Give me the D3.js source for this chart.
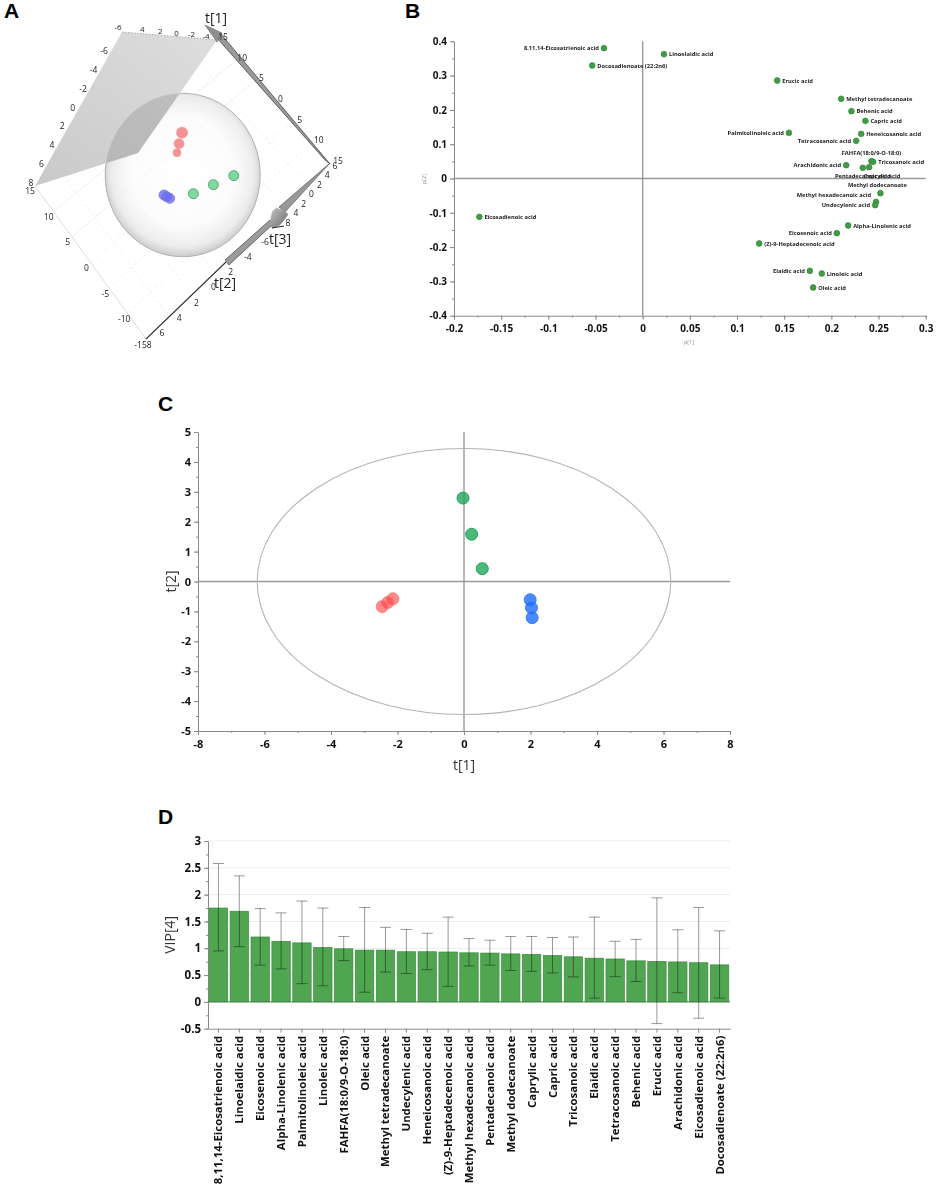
<!DOCTYPE html>
<html>
<head>
<meta charset="utf-8">
<script src="https://cdn.jsdelivr.net/npm/d3@7"></script>
<style>
  html, body { margin: 0; padding: 0; background: #fff; }
  svg { display: block; }
  text { font-family: "Open Sans", "Noto Sans", sans-serif; }
  .panel-letter { font-family: "Liberation Sans", Arial, sans-serif; font-weight: bold; font-size: 21px; fill: #000; }
</style>
</head>
<body>
<div id="chart"></div>
<script>
// panel A - score plot 3D, t[1] / t[2] floor coordinates
const aGroups = ["red", "red", "red", "green", "green", "green", "blue", "blue", "blue"];
const aT1 = [5.78, 4.66, 3.68, -6.18, -4.97, -3.79, -0.47, -1.01, -1.59];
const aT2 = [-2.46, -1.62, -0.95, -3.25, -1.4, 0.42, 2.39, 2.31, 2.22];
const aRadius = [5.5, 5, 4, 5, 5, 5, 5, 5, 5];
const aEdgeTicks = [15, 10, 5, 0, -5, -10, -15];
const aEdgeTickLabels = ["15", "10", "5", "0", "5", "10", "15"];
const aLowerTickLabels = ["15", "10", "5", "0", "-5", "-10", "-158"];
const aT2Ticks = [6, 4, 2, 0, -2, -4, -6];
const aT2Labels = ["6", "4", "2", "0", "2", "-4", "-6"];
const aT3Labels = ["6", "4", "2", "0", "2", "4", "8"];
const aWallLabels = ["8", "6", "4", "2", "0", "-2", "-4", "-6"];
const aTopLabels = ["-6", "4", "2", "0", "-2", "-4"];

// panel B - loadings
const loadNames = ["8,11,14-Eicosatrienoic acid", "Docosadienoate (22:2n6)", "Linoelaidic acid", "Erucic acid",
  "Methyl tetradecanoate", "Behenic acid", "Capric acid", "Palmitolinoleic acid", "Heneicosanoic acid",
  "Tetracosanoic acid", "FAHFA(18:0/9-O-18:0)", "Tricosanoic acid", "Arachidonic acid", "Pentadecanoic acid",
  "Caprylic acid", "Methyl dodecanoate", "Methyl hexadecanoic acid", "Undecylenic acid", "Alpha-Linolenic acid",
  "Eicosenoic acid", "(Z)-9-Heptadecenoic acid", "Elaidic acid", "Linoleic acid", "Oleic acid", "Eicosadienoic acid"];
const loadP1 = [-0.0411, -0.0535, 0.0226, 0.1426, 0.2104, 0.2213, 0.2361, 0.155, 0.2316, 0.2263, 0.2425, 0.2443,
  0.2157, 0.2333, 0.24, 0.252, 0.2474, 0.2464, 0.2178, 0.2058, 0.1235, 0.1772, 0.1899, 0.1807, -0.1731];
const loadP2 = [0.38, 0.3294, 0.3625, 0.2857, 0.2323, 0.1963, 0.1681, 0.1331, 0.1302, 0.1098, 0.0505, 0.0486,
  0.0389, 0.0311, 0.033, -0.0428, -0.068, -0.0777, -0.137, -0.1594, -0.1895, -0.2692, -0.277, -0.3178, -0.1118];
const loadLeft = ["8,11,14-Eicosatrienoic acid", "Palmitolinoleic acid", "Tetracosanoic acid", "Arachidonic acid",
  "Methyl hexadecanoic acid", "Undecylenic acid", "Eicosenoic acid", "Elaidic acid"];
const loadAbove = ["FAHFA(18:0/9-O-18:0)", "Methyl dodecanoate"];
const loadBelow = ["Pentadecanoic acid", "Caprylic acid"];
const pXTicks = [-0.2, -0.15, -0.1, -0.05, 0, 0.05, 0.1, 0.15, 0.2, 0.25, 0.3];
const pYTicks = [0.4, 0.3, 0.2, 0.1, 0, -0.1, -0.2, -0.3, -0.4];

// panel C - score plot
const scoreGroups = ["green", "green", "green", "red", "red", "red", "blue", "blue", "blue"];
const scoreT1 = [-0.03, 0.23, 0.55, -2.14, -2.29, -2.46, 1.99, 2.03, 2.05];
const scoreT2 = [2.79, 1.58, 0.43, -0.58, -0.7, -0.84, -0.61, -0.88, -1.21];
const tXTicks = [-8, -6, -4, -2, 0, 2, 4, 6, 8];
const tYTicks = [5, 4, 3, 2, 1, 0, -1, -2, -3, -4, -5];
const ellipseT1 = 6.22;
const ellipseT2 = 4.45;

// panel D - VIP
const vipNames = ["8,11,14-Eicosatrienoic acid", "Linoelaidic acid", "Eicosenoic acid", "Alpha-Linolenic acid",
  "Palmitolinoleic acid", "Linoleic acid", "FAHFA(18:0/9-O-18:0)", "Oleic acid", "Methyl tetradecanoate",
  "Undecylenic acid", "Heneicosanoic acid", "(Z)-9-Heptadecenoic acid", "Methyl hexadecanoic acid",
  "Pentadecanoic acid", "Methyl dodecanoate", "Caprylic acid", "Capric acid", "Tricosanoic acid", "Elaidic acid",
  "Tetracosanoic acid", "Behenic acid", "Erucic acid", "Arachidonic acid", "Eicosadienoic acid",
  "Docosadienoate (22:2n6)"];
const vipValues = [1.75, 1.69, 1.21, 1.13, 1.1, 1.015, 0.99, 0.965, 0.965, 0.935, 0.935, 0.93, 0.915, 0.91, 0.895,
  0.885, 0.865, 0.84, 0.815, 0.8, 0.765, 0.755, 0.745, 0.73, 0.69];
const vipHigh = [2.58, 2.35, 1.74, 1.66, 1.88, 1.75, 1.22, 1.76, 1.39, 1.35, 1.28, 1.58, 1.18, 1.15, 1.22, 1.22,
  1.2, 1.21, 1.58, 1.13, 1.165, 1.94, 1.345, 1.76, 1.325];
const vipLow = [0.95, 1.03, 0.685, 0.615, 0.34, 0.3, 0.77, 0.18, 0.555, 0.53, 0.6, 0.29, 0.67, 0.685, 0.585, 0.57,
  0.54, 0.465, 0.07, 0.47, 0.38, -0.405, 0.17, -0.305, 0.07];
const vipTicks = [3, 2.5, 2, 1.5, 1, 0.5, 0, -0.5];

const axisGrey = "#8a8a8a";
const svg = d3.select("#chart").append("svg").attr("width", 941).attr("height", 1192);

[["A", 4, 18], ["B", 405, 18], ["C", 158, 411], ["D", 158, 824]].forEach(([t, x, y]) => {
  svg.append("text").attr("class", "panel-letter").attr("x", x).attr("y", y).text(t);
});

function styleAxis(g, size, weight) {
  g.selectAll(".domain").attr("stroke", axisGrey).attr("stroke-width", 1);
  g.selectAll(".tick line").attr("stroke", axisGrey);
  g.selectAll("text").attr("fill", "#111").style("font-size", size + "px").style("font-weight", weight)
    .style("font-family", '"Open Sans", sans-serif');
}

function xyAxes(g, x, y, xTicks, yTicks, xMinor, yMinor, size) {
  const h = y.range()[0], w = x.range()[1];
  const plain = d => String(d);
  const minorX = g.append("g").attr("transform", `translate(0,${h})`)
    .call(d3.axisBottom(x).tickValues(xMinor).tickSize(2).tickFormat(""));
  minorX.select(".domain").remove();
  minorX.selectAll("line").attr("stroke", axisGrey);
  const minorY = g.append("g").attr("transform", `translate(${x.range()[0]},0)`)
    .call(d3.axisLeft(y).tickValues(yMinor).tickSize(2).tickFormat(""));
  minorY.select(".domain").remove();
  minorY.selectAll("line").attr("stroke", axisGrey);
  g.append("g").attr("transform", `translate(0,${h})`)
    .call(d3.axisBottom(x).tickValues(xTicks).tickSize(4).tickSizeOuter(0).tickPadding(5).tickFormat(plain))
    .call(a => styleAxis(a, size, 700));
  g.append("g").attr("transform", `translate(${x.range()[0]},0)`)
    .call(d3.axisLeft(y).tickValues(yTicks).tickSize(4).tickSizeOuter(0).tickFormat(plain))
    .call(a => styleAxis(a, size, 700));
  // zero cross
  g.append("line").attr("x1", x.range()[0]).attr("x2", w).attr("y1", y(0)).attr("y2", y(0))
    .attr("stroke", "#999").attr("stroke-width", 1.4);
  g.append("line").attr("x1", x(0)).attr("x2", x(0)).attr("y1", h).attr("y2", y.range()[1])
    .attr("stroke", "#999").attr("stroke-width", 1.4);
}

// ---- panel A
function drawPanelA() {
  const g = svg.append("g").style("filter", "blur(0.35px)");
  const defs = svg.append("defs");
  const sphere = defs.append("radialGradient").attr("id", "sphere").attr("cx", "50%").attr("cy", "48%").attr("r", "51%");
  sphere.append("stop").attr("offset", "0%").attr("stop-color", "#fff").attr("stop-opacity", 0.5);
  sphere.append("stop").attr("offset", "65%").attr("stop-color", "#fafafa").attr("stop-opacity", 0.7);
  sphere.append("stop").attr("offset", "90%").attr("stop-color", "#e9e9e9").attr("stop-opacity", 0.85);
  sphere.append("stop").attr("offset", "100%").attr("stop-color", "#d0d0d0");
  const wall = defs.append("linearGradient").attr("id", "wall").attr("x1", "0%").attr("y1", "100%").attr("x2", "100%").attr("y2", "0%");
  wall.append("stop").attr("offset", "0%").attr("stop-color", "#c9c9c9");
  wall.append("stop").attr("offset", "100%").attr("stop-color", "#dedede");
  const head = defs.append("linearGradient").attr("id", "head").attr("x1", "0%").attr("y1", "0%").attr("x2", "100%").attr("y2", "100%");
  head.append("stop").attr("offset", "0%").attr("stop-color", "#c4c4c4");
  head.append("stop").attr("offset", "100%").attr("stop-color", "#6a6a6a");
  defs.append("clipPath").attr("id", "sphere-clip").append("ellipse")
    .attr("cx", 182.7).attr("cy", 175).attr("rx", 77.5).attr("ry", 81.7);

  // corners of the box as drawn
  const L = [35, 186], T = [217, 40], R = [330, 163], B = [146, 339], Back = [122, 32], Inner = [138, 153];
  const along = (p, q, dom) => {
    const sx = d3.scaleLinear().domain(dom).range([p[0], q[0]]);
    const sy = d3.scaleLinear().domain(dom).range([p[1], q[1]]);
    return v => [sx(v), sy(v)];
  };
  const line = (a, b) => g.append("line").attr("x1", a[0]).attr("y1", a[1]).attr("x2", b[0]).attr("y2", b[1]);

  // floor grid
  const t1Top = along(T, R, [15, -15]), t1Low = along(L, B, [15, -15]);
  aEdgeTicks.forEach(v => line(t1Top(v), t1Low(v)).attr("stroke", "#ececec").attr("stroke-width", 0.8)
    .attr("stroke-dasharray", v > 0 ? "none" : "3 3"));
  const t2Right = along(R, B, [-8, 8]), t2Left = along(T, L, [-8, 8]);
  aT2Ticks.forEach(v => line(t2Right(v), t2Left(v)).attr("stroke", "#ececec").attr("stroke-width", 0.8)
    .attr("stroke-dasharray", "3 3"));
  line(L, B).attr("stroke", "#ddd");

  // sphere, then wall over it
  g.append("ellipse").attr("cx", 182.7).attr("cy", 175).attr("rx", 77.5).attr("ry", 81.7)
    .attr("fill", "url(#sphere)").attr("stroke", "#b0b0b0").attr("stroke-width", 1);
  const wallPts = [Back, T, Inner, L];
  g.append("path").attr("d", d3.line()(wallPts)).attr("fill", "url(#wall)");
  g.append("path").attr("d", d3.line()(wallPts)).attr("fill", "#666").attr("fill-opacity", 0.22)
    .attr("clip-path", "url(#sphere-clip)");
  line(Back, T).attr("stroke", "#aaa").attr("stroke-dasharray", "1.5 1.5");

  // points
  const color = d3.scaleOrdinal().domain(["red", "green", "blue"]).range(["#f0787a", "#5fd08a", "#6a6af0"]);
  const stroke = d3.scaleOrdinal().domain(["red", "green", "blue"]).range(["#ee9a9a", "#3c9c60", "#7a7ae0"]);
  const px = d3.scaleLinear().domain([0, 1]).range([0, -3.76]), py = d3.scaleLinear().domain([0, 1]).range([0, -4.09]);
  const qx = d3.scaleLinear().domain([0, 1]).range([0, -8.56]), qy = d3.scaleLinear().domain([0, 1]).range([0, 7.58]);
  g.selectAll(".a-pt").data(aT1).join("circle").attr("class", "a-pt")
    .attr("cx", (d, i) => 182.7 + px(d) + qx(aT2[i]))
    .attr("cy", (d, i) => 175 + py(d) + qy(aT2[i]))
    .attr("r", (d, i) => aRadius[i])
    .attr("fill", (d, i) => color(aGroups[i])).attr("fill-opacity", 0.8)
    .attr("stroke", (d, i) => stroke(aGroups[i])).attr("stroke-width", 0.8);

  // axis arrows
  const poly = pts => g.append("path").attr("d", d3.line()(pts) + "Z");
  poly([[330, 164], [325, 160], [217, 38], [221, 34]]).attr("fill", "#9a9a9a").attr("stroke", "#333").attr("stroke-width", 0.7);
  poly([[205, 25], [222, 33], [217, 42]]).attr("fill", "#8f8f8f").attr("stroke", "#555").attr("stroke-width", 0.5);
  line([146, 339], [226, 262]).attr("stroke", "#333").attr("stroke-width", 1.1);
  poly([[225, 260], [270, 220], [273, 224], [229, 265]]).attr("fill", "#9b9b9b").attr("stroke", "#444").attr("stroke-width", 0.7);
  poly([[330, 163], [279, 207], [285, 212]]).attr("fill", "#999").attr("stroke", "#444").attr("stroke-width", 0.6);
  g.append("path")
    .attr("d", d3.line().curve(d3.curveCardinalClosed.tension(0.5))([[270, 223], [272, 212], [277, 208], [288, 214], [280, 225], [272, 228]]))
    .attr("fill", "url(#head)");
  line([272, 228], [284, 226]).attr("stroke", "#222").attr("stroke-width", 1);

  const label = (txt, p, size, anchor) => g.append("text").attr("x", p[0]).attr("y", p[1]).attr("text-anchor", anchor || "middle")
    .attr("dy", "0.35em").attr("fill", "#222").style("font-size", size + "px").text(txt);
  const onEdge = (labels, p, q) => labels.forEach((t, i) => {
    const s = along(p, q, [0, labels.length - 1]);
    label(t, s(i), 8.5);
  });
  onEdge(aEdgeTickLabels, [223, 37], [338, 161]);
  onEdge(aLowerTickLabels, [30, 191], [143, 345]);
  onEdge(aT2Labels, [162, 333], [265, 242]);
  onEdge(aT3Labels, [335, 166], [288, 223]);
  onEdge(aWallLabels, [31, 183], [104, 51]);
  // the back edge runs away from the viewer, so its ticks bunch up
  const topEdge = d3.scalePow().exponent(0.8).domain([0, aTopLabels.length - 1]).range([118, 206]);
  const topEdgeY = d3.scalePow().exponent(0.8).domain([0, aTopLabels.length - 1]).range([27, 36]);
  aTopLabels.forEach((t, i) => label(t, [topEdge(i), topEdgeY(i)], 8));
  label("t[1]", [216, 18], 14);
  label("t[3]", [280, 239], 14);
  label("t[2]", [225, 283], 14);
}

// ---- panel B
function drawPanelB() {
  const g = svg.append("g").style("filter", "blur(0.3px)");
  const x = d3.scaleLinear().domain([-0.2, 0.3]).range([454, 925.7]);
  const y = d3.scaleLinear().domain([-0.4, 0.4]).range([315.7, 41.3]);
  const minorX = d3.range(-0.2, 0.3001, 0.025), minorY = d3.range(-0.4, 0.4001, 0.05);
  xyAxes(g, x, y, pXTicks, pYTicks, minorX, minorY, 10);

  g.selectAll(".load-pt").data(loadNames).join("circle").attr("class", "load-pt")
    .attr("cx", (d, i) => x(loadP1[i])).attr("cy", (d, i) => y(loadP2[i])).attr("r", 2.9)
    .attr("fill", "#3f9e44").attr("stroke", "#2f7f35").attr("stroke-width", 0.6);

  g.selectAll(".load-label").data(loadNames).join("text").attr("class", "load-label")
    .attr("x", (d, i) => {
      const cx = x(loadP1[i]);
      if (d === "Caprylic acid") return cx + 13;
      if (d === "Pentadecanoic acid") return cx;
      if (loadAbove.includes(d)) return cx + (d === "Methyl dodecanoate" ? -3 : 0);
      return loadLeft.includes(d) ? cx - 5 : cx + 5;
    })
    .attr("y", (d, i) => {
      const cy = y(loadP2[i]);
      if (loadAbove.includes(d)) return cy - 8.3;
      if (loadBelow.includes(d)) return cy + 8.5;
      if (d === "Methyl hexadecanoic acid") return cy - 6.5;
      return cy;
    })
    .attr("dy", "0.35em")
    .attr("text-anchor", d => loadAbove.includes(d) || loadBelow.includes(d) ? "middle" : loadLeft.includes(d) ? "end" : "start")
    .attr("fill", "#222").style("font-size", "5.75px").style("font-weight", 700).text(d => d);

  g.append("text").attr("transform", "translate(426,179) rotate(-90)").attr("text-anchor", "middle")
    .attr("fill", "#888").style("font-size", "5.5px").text("p[2]");
  g.append("text").attr("x", 689).attr("y", 344).attr("text-anchor", "middle")
    .attr("fill", "#888").style("font-size", "5.5px").text("p[1]");
}

// ---- panel C
function drawPanelC() {
  const g = svg.append("g").style("filter", "blur(0.25px)");
  const x = d3.scaleLinear().domain([-8, 8]).range([198, 730]);
  const y = d3.scaleLinear().domain([-5, 5]).range([731, 432]);
  xyAxes(g, x, y, tXTicks, tYTicks, d3.range(-8, 8.01, 1), d3.range(-5, 5.01, 0.5), 11);

  g.append("ellipse").attr("cx", x(0)).attr("cy", y(0))
    .attr("rx", x(ellipseT1) - x(0)).attr("ry", y(0) - y(ellipseT2))
    .attr("fill", "none").attr("stroke", "#b4b4b4").attr("stroke-width", 1.1);

  const fill = d3.scaleOrdinal().domain(["green", "red", "blue"]).range(["#1fa85a", "#ff3c3c", "#1e6cff"]);
  const edge = d3.scaleOrdinal().domain(["green", "red", "blue"]).range(["#12a050", "#f77", "#2a78f0"]);
  g.selectAll(".score-pt").data(scoreT1).join("circle").attr("class", "score-pt")
    .attr("cx", d => x(d)).attr("cy", (d, i) => y(scoreT2[i])).attr("r", 6)
    .attr("fill", (d, i) => fill(scoreGroups[i]))
    .attr("fill-opacity", (d, i) => scoreGroups[i] === "red" ? 0.6 : 0.8)
    .attr("stroke", (d, i) => edge(scoreGroups[i])).attr("stroke-width", 0.9);

  g.append("text").attr("x", x(0)).attr("y", 770).attr("text-anchor", "middle").attr("fill", "#333")
    .style("font-size", "14px").text("t[1]");
  g.append("text").attr("transform", `translate(176,${y(0)}) rotate(-90)`).attr("text-anchor", "middle").attr("fill", "#333")
    .style("font-size", "14px").text("t[2]");
}

// ---- panel D
function drawPanelD() {
  const g = svg.append("g").style("filter", "blur(0.25px)");
  const x = d3.scaleBand().domain(vipNames).range([208, 730]).paddingInner(0.12).paddingOuter(0.06);
  const y = d3.scaleLinear().domain([-0.5, 3]).range([1028.7, 841]);

  g.selectAll(".vip-grid").data(vipTicks.filter(d => d > 0)).join("line").attr("class", "vip-grid")
    .attr("x1", 208).attr("x2", 730).attr("y1", d => y(d)).attr("y2", d => y(d))
    .attr("stroke", "#ececec").attr("stroke-width", 1);

  const minor = g.append("g").attr("transform", "translate(208,0)")
    .call(d3.axisLeft(y).tickValues(d3.range(-0.5, 3.01, 0.25)).tickSize(2).tickFormat(""));
  minor.select(".domain").remove();
  minor.selectAll("line").attr("stroke", axisGrey);
  g.append("g").attr("transform", "translate(208,0)")
    .call(d3.axisLeft(y).tickValues(vipTicks).tickSize(4).tickSizeOuter(0).tickFormat(d => String(d)))
    .call(a => styleAxis(a, 11.5, 700));

  g.selectAll(".vip-bar").data(vipNames).join("rect").attr("class", "vip-bar")
    .attr("x", d => x(d)).attr("width", x.bandwidth())
    .attr("y", (d, i) => y(vipValues[i])).attr("height", (d, i) => y(0) - y(vipValues[i]))
    .attr("fill", "#4fa550").attr("stroke", "#3a8a40").attr("stroke-width", 0.7);
  g.append("line").attr("x1", 208).attr("x2", 730).attr("y1", y(0)).attr("y2", y(0))
    .attr("stroke", "#4b7f50").attr("stroke-width", 1);

  const mid = d => x(d) + x.bandwidth() / 2;
  const err = g.append("g").attr("stroke", "#000").attr("stroke-opacity", 0.45).attr("stroke-width", 0.9);
  vipNames.forEach((d, i) => {
    err.append("line").attr("x1", mid(d)).attr("x2", mid(d)).attr("y1", y(vipHigh[i])).attr("y2", y(vipLow[i]));
    [vipHigh[i], vipLow[i]].forEach(v => {
      err.append("line").attr("x1", mid(d) - 5.5).attr("x2", mid(d) + 5.5).attr("y1", y(v)).attr("y2", y(v));
    });
  });

  g.append("g").attr("transform", `translate(0,${y(-0.5)})`)
    .call(d3.axisBottom(x).tickSize(4).tickSizeOuter(0))
    .call(a => styleAxis(a, 11.4, 700))
    .selectAll("text")
    .attr("transform", "rotate(-90)").attr("text-anchor", "end")
    .attr("x", -7).attr("y", 0).attr("dy", "0.35em");

  g.append("text").attr("transform", `translate(175,${y(1.25)}) rotate(-90)`).attr("text-anchor", "middle")
    .attr("fill", "#333").style("font-size", "14px").text("VIP[4]");
}

drawPanelA();
drawPanelB();
drawPanelC();
drawPanelD();
</script>
</body>
</html>
